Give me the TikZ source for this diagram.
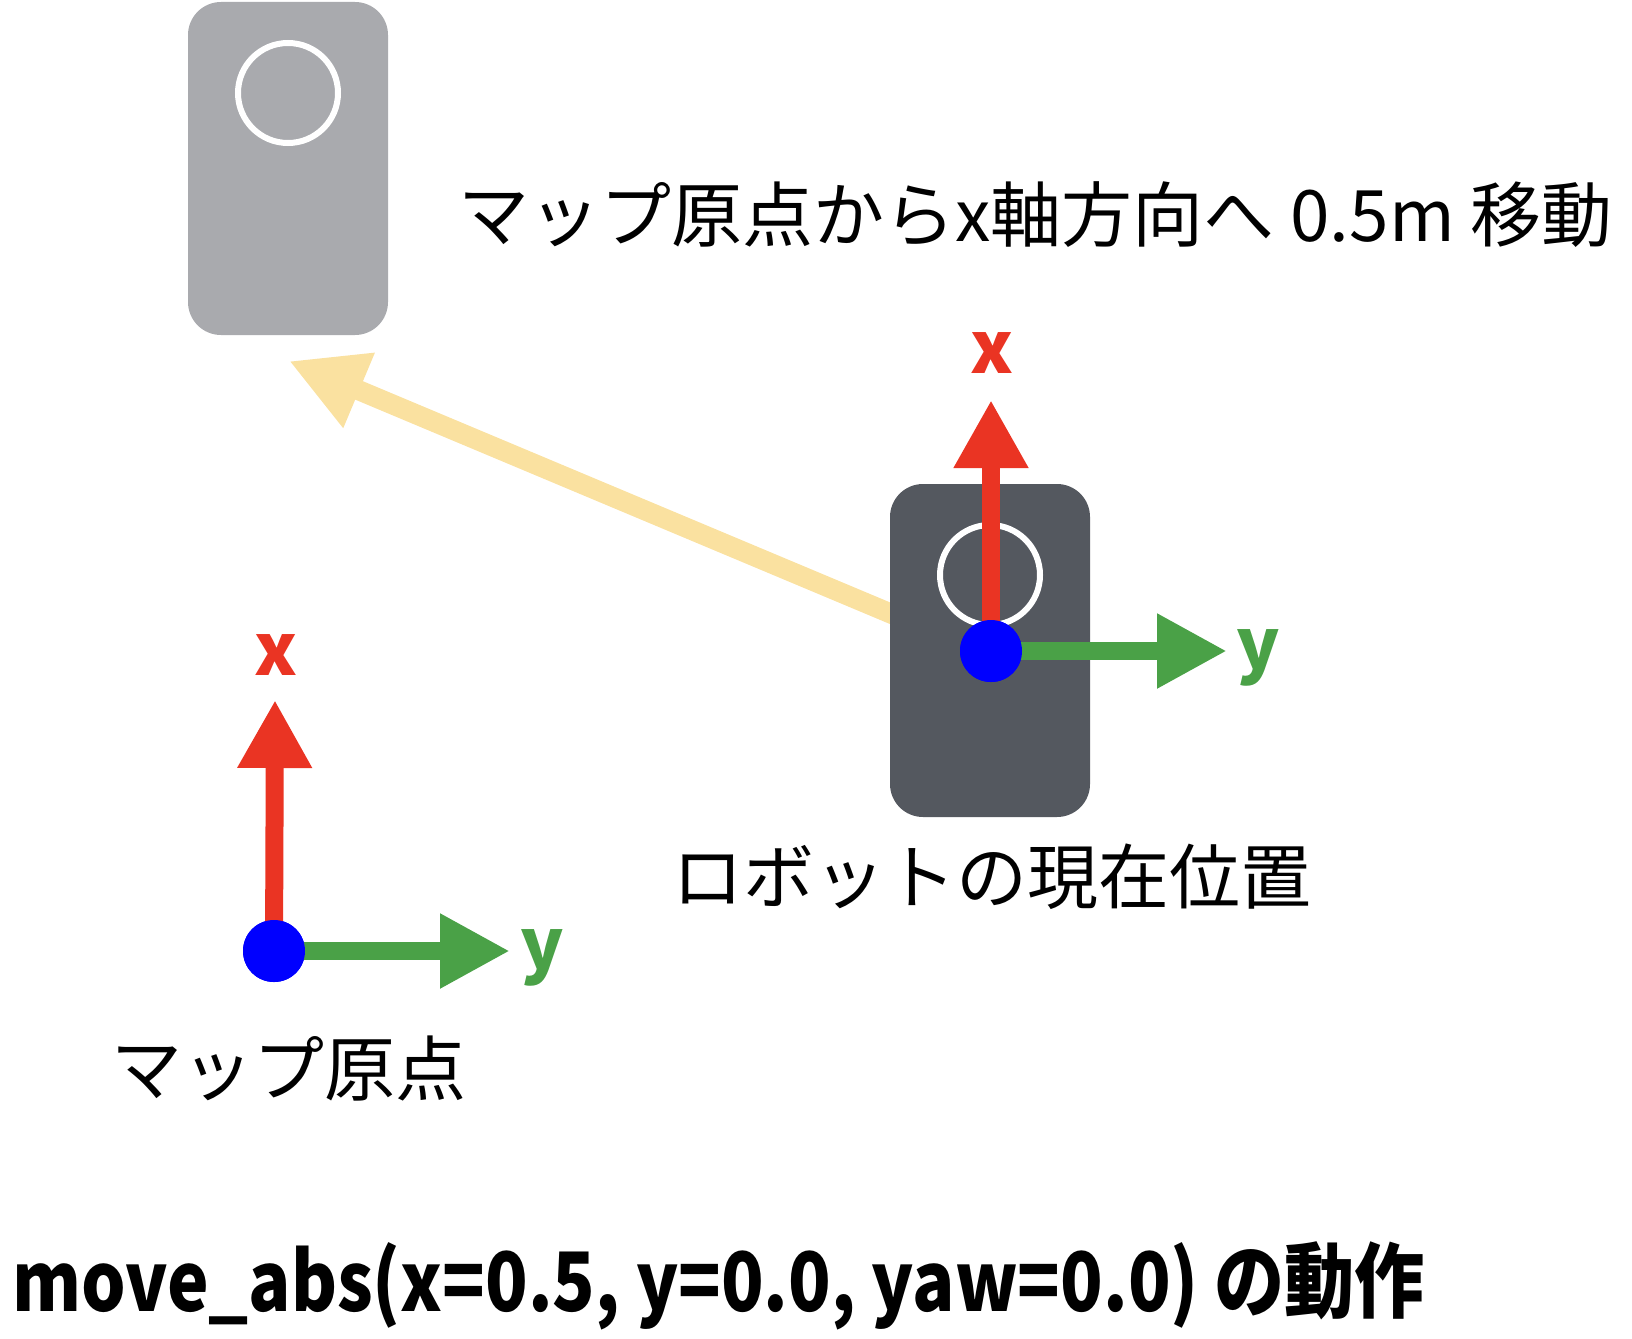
\documentclass[tikz,border=0pt]{standalone}
\usepackage{fontspec}
\setmainfont{Noto Sans CJK JP}
\usetikzlibrary{arrows.meta}
\definecolor{axred}{HTML}{EA3423}
\definecolor{axgreen}{HTML}{4AA147}
\definecolor{dotblue}{HTML}{0000FF}
\definecolor{ghost}{HTML}{A9AAAE}
\definecolor{robotdark}{HTML}{54585F}
\definecolor{moveyellow}{HTML}{FAE1A0}
\tikzset{
  robotbody/.style={rounded corners=33pt},
  lens/.style={draw=white, line width=6pt},
  xaxis/.style={draw=axred, line width=18pt, -{Triangle[length=68pt,width=70pt]}},
  yaxis/.style={draw=axgreen, line width=18pt, -{Triangle[length=70pt,width=70pt]}},
  origindot/.style={circle, fill=dotblue, minimum size=62pt, inner sep=0pt},
  axlabel/.style={font=\fontsize{72}{80}\selectfont\bfseries, inner sep=0pt, anchor=base},
  caption/.style={font=\fontsize{71}{80}\selectfont, inner sep=0pt},
  title/.style={font=\fontsize{82}{90}\selectfont\bfseries, inner sep=0pt, anchor=base west},
  movearrow/.style={draw=moveyellow, line width=20pt, -{Triangle[length=76pt,width=76pt]}}
}
\begin{document}
\begin{tikzpicture}[x=1pt,y=-1pt]
\useasboundingbox (0,0) rectangle (1632,1338);
% yellow move arrow (behind robot)
\coordinate (mstart) at (930,630);
\coordinate (mtip) at (289,361);
\draw[movearrow] (mstart) -- (mtip);
% ghost robot (target)
\fill[ghost, robotbody] (188,2) rectangle (388,335);
\node[lens, circle, minimum size=100pt, inner sep=0pt] (glens) at (288,93) {};
% current robot
\fill[robotdark, robotbody] (890,484) rectangle (1090,817);
\node[lens, circle, minimum size=100pt, inner sep=0pt] (rlens) at (990,575) {};
% robot axes
\coordinate (rx) at (991,400);
\coordinate (ry) at (1227,651);
\node[origindot] (rdot) at (991,651) {};
\draw[xaxis] (rdot.center) -- (rx);
\draw[yaxis] (rdot.center) -- (ry);
\node[origindot] at (rdot.center) {};
\node[axlabel, text=axred] (rxl) at (992,373) {x};
\node[axlabel, text=axgreen] (ryl) at (1258,670) {y};
% map origin axes
\coordinate (mx) at (275,700);
\coordinate (my) at (510,951);
\node[origindot] (mdot) at (274,951) {};
\draw[xaxis] (mdot.center) -- (mx);
\draw[yaxis] (mdot.center) -- (my);
\node[origindot] at (mdot.center) {};
\node[axlabel, text=axred] (mxl) at (276,675) {x};
\node[axlabel, text=axgreen] (myl) at (542,970) {y};
% captions
\node[caption, anchor=base west] (movetext) at (458,241) {マップ原点からx軸方向へ 0.5m 移動};
\node[caption, anchor=base] (robottext) at (992,903) {ロボットの現在位置};
\node[caption, anchor=base] (origintext) at (289,1095) {マップ原点};
\node[title] (titletext) at (12,1311) {\scalebox{0.855}[1]{move\_abs(x=0.5, y=0.0, yaw=0.0) の動作}};
\end{tikzpicture}
\end{document}
